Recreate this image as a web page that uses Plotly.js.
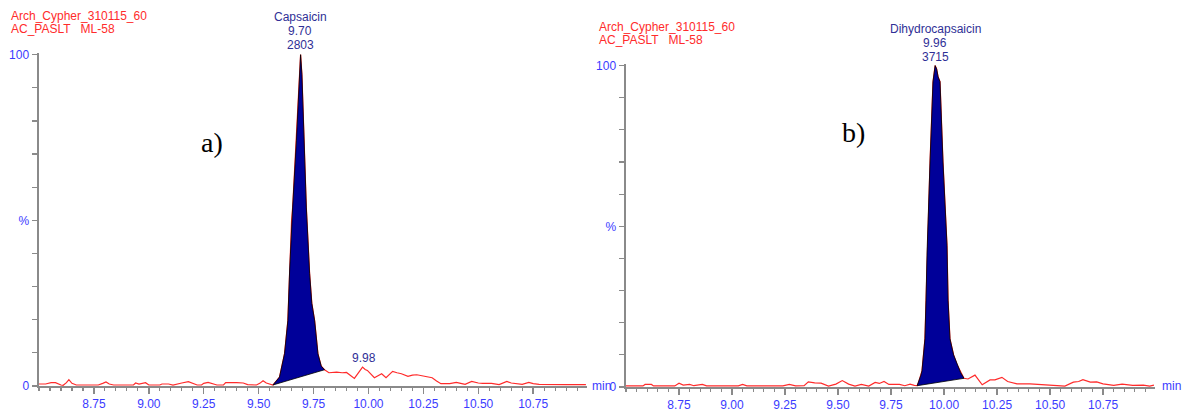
<!DOCTYPE html>
<html>
<head>
<meta charset="utf-8">
<script src="https://cdn.plot.ly/plotly-3.0.1.min.js"></script>
<style>html,body{margin:0;padding:0;background:#fff;}#chart{width:1193px;height:411px;}</style>
</head>
<body>
<div id="chart"></div>
<script>
// ---------- Panel a) Capsaicin (time in min, intensity in %) ----------
const aPreT  = [8.50,8.53,8.555,8.575,8.60,8.61,8.625,8.636,8.65,8.67,8.72,8.77,8.79,8.805,8.82,8.84,8.93,8.94,8.955,8.97,8.985,9.00,9.05,9.06,9.09,9.11,9.13,9.15,9.18,9.20,9.22,9.24,9.25,9.27,9.29,9.31,9.34,9.35,9.40,9.43,9.45,9.49,9.505,9.52,9.535,9.55];
const aPreY  = [0.6,0.6,1.0,1.0,0.3,0.2,1.0,1.9,0.8,0.3,0.3,0.3,0.8,1.2,0.6,0.3,0.3,0.9,0.6,0.8,1.0,0.3,0.3,0.6,0.6,0.3,0.5,0.9,1.3,0.9,0.3,0.3,0.8,1.1,0.6,0.3,0.3,1.0,1.0,0.9,0.4,0.3,0.8,1.6,0.9,0.6];
const aPeakT = [9.565,9.595,9.618,9.633,9.641,9.650,9.655,9.672,9.684,9.691,9.697,9.706,9.717,9.732,9.742,9.755,9.770,9.785,9.800];
const aPeakY = [0.3,2.7,9.8,19.7,34.7,50,54,74,90,100,94,74,54,34,25,19.7,9.7,6,4.9];
const aPostT = [9.82,9.855,9.88,9.90,9.936,9.955,9.973,9.985,9.995,10.027,10.045,10.06,10.08,10.095,10.11,10.13,10.15,10.18,10.20,10.22,10.24,10.26,10.29,10.31,10.33,10.37,10.40,10.42,10.44,10.47,10.50,10.52,10.56,10.595,10.63,10.65,10.67,10.70,10.73,10.75,10.777,10.82,10.90,10.99];
const aPostY = [4.0,4.2,4.0,4.1,2.3,4.0,5.7,5.0,4.7,2.5,3.2,3.7,2.5,3.5,4.4,4.0,3.7,2.9,3.3,3.4,3.1,2.9,2.5,1.5,0.7,0.7,1.1,0.8,0.5,1.4,0.9,0.8,0.8,0.4,1.4,0.9,0.7,0.5,1.1,0.7,0.5,0.4,0.4,0.4];

// ---------- Panel b) Dihydrocapsaicin ----------
const bPreT  = [8.50,8.58,8.59,8.62,8.63,8.73,8.75,8.77,8.80,8.82,8.86,8.88,9.03,9.05,9.07,9.24,9.27,9.30,9.34,9.36,9.39,9.42,9.455,9.49,9.52,9.55,9.58,9.61,9.645,9.675,9.695,9.717,9.74,9.79,9.815,9.84,9.86];
const bPreY  = [0.35,0.35,0.8,0.8,0.35,0.35,1.2,0.6,0.8,0.4,0.8,0.35,0.35,0.8,0.35,0.35,0.8,0.35,0.4,1.6,1.3,1.2,0.3,0.9,2.0,0.9,0.3,0.8,0.3,1.4,1.1,1.7,0.8,0.8,0.4,0.9,0.5];
const bPeakT = [9.873,9.880,9.890,9.896,9.910,9.915,9.920,9.934,9.948,9.958,9.965,9.972,9.981,9.995,10.014,10.019,10.028,10.045,10.061,10.078,10.094];
const bPeakY = [0.4,1.5,3.5,5,15,27,42,70,95,100,99,96.5,95,70,44,27,15,10,7,4.5,2.7];
const bPostT = [10.113,10.146,10.18,10.20,10.217,10.24,10.255,10.273,10.30,10.344,10.405,10.44,10.50,10.53,10.57,10.61,10.635,10.655,10.69,10.72,10.75,10.80,10.84,10.89,10.94,10.97,10.99];
const bPostY = [2.5,3.7,0.7,1.6,2.2,2.2,2.6,3.0,1.7,1.0,1.0,0.9,0.5,0.6,0.3,1.5,1.7,2.3,1.5,1.6,1.0,0.5,0.9,0.5,0.6,0.3,0.6];

// ---------- Labels / ticks ----------
const sampleLines = ["Arch_Cypher_310115_60", "AC_PASLT  ML-58"];
const peakNames = ["Capsaicin", "Dihydrocapsaicin"];
const peakRT = ["9.70", "9.96"];
const peakArea = ["2803", "3715"];
const minorPeakLabel = "9.98";
const panelLabels = ["a)", "b)"];
const xTickVals = [8.75, 9.00, 9.25, 9.50, 9.75, 10.00, 10.25, 10.50, 10.75];
const xTickText = ["8.75", "9.00", "9.25", "9.50", "9.75", "10.00", "10.25", "10.50", "10.75"];
const yTickVals = [0,10,20,30,40,50,60,70,80,90,100];
const yTickText = ["0","","","","","%","","","","","100"];

const W = 1193, H = 411;
const px = x => x / W;
const py = y => 1 - y / H;

const RED = '#ff2b2b', BLUE = '#3b3bff', NAVY = '#2f2f96', GREY = '#8a8a8a';
const FONT = 'Liberation Sans, Arial, sans-serif';

function peakPolygon(t, y) {
  // peak outline followed by the straight integration baseline back to the start
  return { x: t.concat([t[0]]), y: y.concat([y[0]]) };
}

function traces(pre_t, pre_y, pk_t, pk_y, post_t, post_y, xa, ya) {
  const poly = peakPolygon(pk_t, pk_y);
  return [
    { x: pre_t.concat(pk_t, post_t), y: pre_y.concat(pk_y, post_y), xaxis: xa, yaxis: ya,
      type: 'scatter', mode: 'lines', line: { color: RED, width: 1.2 }, hoverinfo: 'skip' },
    { x: poly.x, y: poly.y, xaxis: xa, yaxis: ya, type: 'scatter', mode: 'lines',
      fill: 'toself', fillcolor: '#000099', line: { color: '#000000', width: 0.8 }, hoverinfo: 'skip' }
  ];
}

const data = [].concat(
  traces(aPreT, aPreY, aPeakT, aPeakY, aPostT, aPostY, 'x', 'y'),
  traces(bPreT, bPreY, bPeakT, bPeakY, bPostT, bPostY, 'x2', 'y2')
);

function xAxis(dom, anchor) {
  return {
    domain: dom, anchor: anchor, range: [8.5, 10.995], autorange: false,
    showgrid: false, zeroline: false, showline: true, linecolor: GREY, linewidth: 2,
    ticks: 'outside', tickcolor: GREY, ticklen: 6, tickwidth: 1.5,
    tickmode: 'array', tickvals: xTickVals, ticktext: xTickText,
    tickfont: { family: FONT, size: 12, color: BLUE },
    minor: { dtick: 0.05, tick0: 8.5, ticks: 'outside', ticklen: 3, tickcolor: GREY, tickwidth: 1.2, showgrid: false }
  };
}
function yAxis(dom, anchor) {
  return {
    domain: dom, anchor: anchor, range: [0, 100.5], autorange: false,
    showgrid: false, zeroline: false, showline: true, linecolor: GREY, linewidth: 2.5,
    ticks: 'outside', tickcolor: GREY, ticklen: 5, tickwidth: 1.2,
    tickmode: 'array', tickvals: yTickVals, ticktext: yTickText,
    tickfont: { family: FONT, size: 12, color: BLUE }
  };
}

const ann = [];
function txt(x, y, text, color, size, family, xanchor) {
  ann.push({ xref: 'paper', yref: 'paper', x: px(x), y: py(y), text: text, showarrow: false,
    xanchor: xanchor || 'center', yanchor: 'middle', font: { family: family || FONT, size: size || 12, color: color } });
}
const hdr2 = sampleLines[1].replace(/  /g, '&nbsp;&nbsp;&nbsp;');
// sample headers
txt(9, 16, sampleLines[0], RED, 12, FONT, 'left');
txt(9, 29, hdr2, RED, 12, FONT, 'left');
txt(597, 27, sampleLines[0], RED, 12, FONT, 'left');
txt(597, 40, hdr2, RED, 12, FONT, 'left');
// peak labels
txt(300, 17, peakNames[0], NAVY); txt(300, 31, peakRT[0], NAVY); txt(300, 45, peakArea[0], NAVY);
txt(935, 29, peakNames[1], NAVY); txt(935, 43, peakRT[1], NAVY); txt(935, 57, peakArea[1], NAVY);
txt(364, 358, minorPeakLabel, NAVY);
// panel letters
txt(212, 142, panelLabels[0], '#000', 28, 'Liberation Serif, Times New Roman, serif');
txt(853, 132, panelLabels[1], '#000', 28, 'Liberation Serif, Times New Roman, serif');
// axis unit
txt(590, 386, 'min', BLUE, 12, FONT, 'left');
txt(1160, 386, 'min', BLUE, 12, FONT, 'left');

const layout = {
  width: W, height: H, margin: { l: 0, r: 0, t: 0, b: 0 },
  paper_bgcolor: '#fff', plot_bgcolor: '#fff', showlegend: false,
  xaxis: xAxis([px(39), px(587)], 'y'),
  yaxis: yAxis([py(386), py(53)], 'x'),
  xaxis2: xAxis([px(626), px(1155)], 'y2'),
  yaxis2: yAxis([py(387), py(64)], 'x2'),
  annotations: ann
};

Plotly.newPlot('chart', data, layout, { staticPlot: true, displayModeBar: false });
</script>
</body>
</html>
